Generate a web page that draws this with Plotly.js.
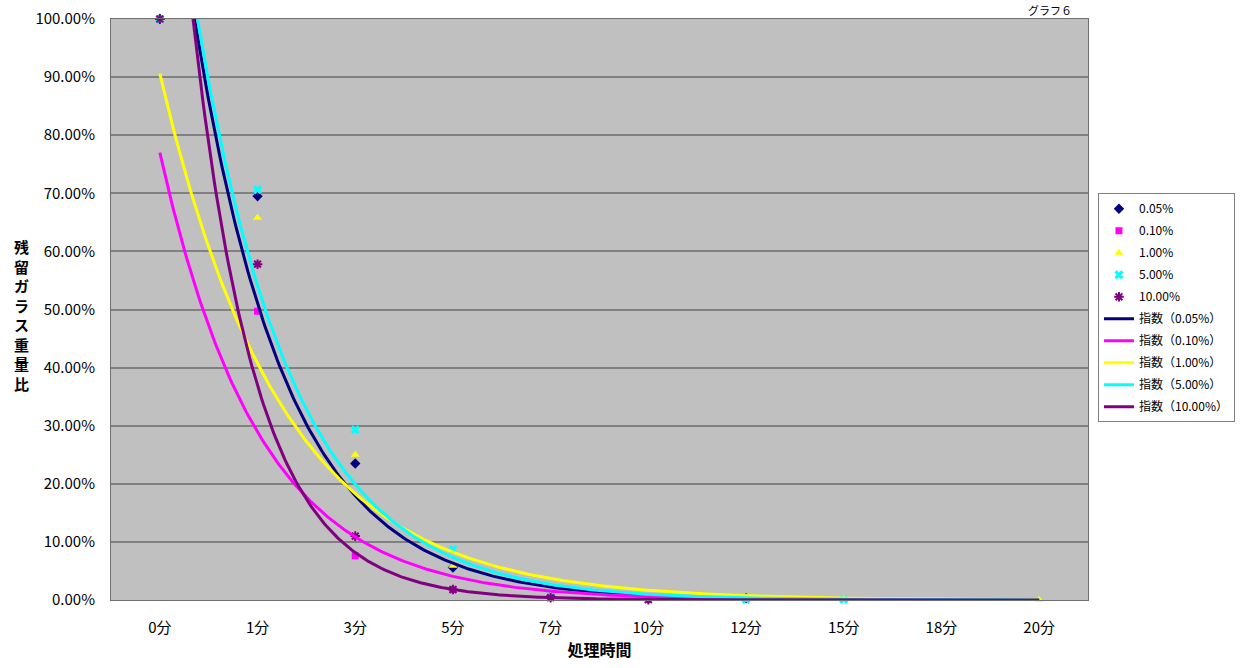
<!DOCTYPE html>
<html>
<head>
<meta charset="utf-8">
<script src="https://cdn.plot.ly/plotly-3.0.1.min.js"></script>
<style>
  html, body { margin: 0; padding: 0; background: #ffffff; }
  #chart { width: 1248px; height: 668px; }
</style>
</head>
<body>
<div id="chart"></div>
<script>
// Processing time categories (x axis)
const categories = ['0分', '1分', '3分', '5分', '7分', '10分', '12分', '15分', '18分', '20分'];

// Residual glass weight ratio (%) per concentration; null = not measured
const seriesNames = ['0.05%', '0.10%', '1.00%', '5.00%', '10.00%'];
const s005  = [100, 69.5, 23.5, 5.6, 0.6, 0.2, 0.3, null, null, null];
const s010  = [100, 49.7, 7.6, 1.8, 0.4, 0.1, null, null, null, null];
const s100  = [100, 65.8, 25.0, 5.9, 0.8, 0.3, 0.2, 0.1, null, 0.05];
const s500  = [100, 70.6, 29.3, 8.7, 0.7, 0.3, 0.1, 0.1, null, null];
const s1000 = [100, 57.8, 11.0, 1.8, 0.4, 0.05, null, null, null, null];

// Exponential trendline coefficients, y = a·e^(b·x) with x = 1..10 (category number)
const trendA = [412.3, 205.2, 201.6, 399.6, 756.0];
const trendB = [-1.045, -0.98, -0.80, -1.0, -1.51];

const yTicks = [0, 10, 20, 30, 40, 50, 60, 70, 80, 90, 100];

const values  = [s005, s010, s100, s500, s1000];
const colors  = ['#000080', '#FF00FF', '#FFFF00', '#00FFFF', '#800080'];
const symbols = ['diamond', 'square', 'triangle-up', 'x', 'asterisk-open'];
const sizes   = [8, 7, 8, 8, 8];

const FONT = '"Noto Sans CJK JP", "Noto Sans", sans-serif';
const pos = categories.map((_, k) => k);

const traces = [];

// measured points
values.forEach((vals, i) => {
  const isLineSymbol = symbols[i] === 'asterisk-open';
  traces.push({
    type: 'scatter',
    mode: 'markers',
    name: seriesNames[i],
    legendgroup: 'm' + i,
    x: pos,
    y: vals,
    cliponaxis: false,
    marker: {
      symbol: symbols[i],
      size: sizes[i],
      color: colors[i],
      line: isLineSymbol ? { color: colors[i], width: 2 } : { width: 0 }
    },
    hoverinfo: 'x+y+name'
  });
});

// exponential trendlines over the full category span
values.forEach((vals, i) => {
  const xs = [], ys = [];
  for (let x = 1; x <= categories.length + 1e-9; x += 0.02) {
    xs.push(x - 1);
    ys.push(trendA[i] * Math.exp(trendB[i] * x));
  }
  traces.push({
    type: 'scatter',
    mode: 'lines',
    name: '指数（' + seriesNames[i] + '）',
    legendgroup: 't' + i,
    x: xs,
    y: ys,
    line: { color: colors[i], width: 3 },
    hoverinfo: 'skip'
  });
});

const layout = {
  width: 1248,
  height: 668,
  margin: { l: 111, r: 160, t: 19, b: 68 },
  paper_bgcolor: '#ffffff',
  plot_bgcolor: '#C0C0C0',
  font: { family: FONT, size: 14, color: '#000000' },
  showlegend: true,
  legend: {
    x: 1.0102, xanchor: 'left',
    y: 0.700, yanchor: 'top',
    bgcolor: '#ffffff',
    bordercolor: '#808080',
    borderwidth: 1,
    traceorder: 'grouped',
    tracegroupgap: 3,
    font: { family: FONT, size: 12, color: '#000000' }
  },
  xaxis: {
    range: [-0.5, categories.length - 0.5],
    tickmode: 'array',
    tickvals: pos,
    ticktext: categories,
    ticks: '',
    ticklabelstandoff: 14,
    tickfont: { family: FONT, size: 15, color: '#000000' },
    showgrid: false,
    zeroline: false,
    showline: true,
    linecolor: '#707070',
    linewidth: 1,
    mirror: true,
    fixedrange: true,
    title: {
      text: '処理時間',
      font: { family: FONT, size: 16, color: '#000000', weight: 'bold' },
      standoff: 8
    }
  },
  xaxis2: {
    overlaying: 'x',
    anchor: 'y',
    side: 'bottom',
    range: [-0.5, categories.length - 0.5],
    tickmode: 'array',
    tickvals: pos.slice(0, -1).map(k => k + 0.5),
    ticks: 'inside',
    ticklen: 5,
    tickwidth: 1,
    tickcolor: '#404040',
    showticklabels: false,
    showgrid: false,
    zeroline: false,
    showline: false
  },
  yaxis: {
    range: [0, 100],
    tickmode: 'array',
    tickvals: yTicks,
    ticktext: yTicks.map(v => v.toFixed(2) + '%'),
    ticks: '',
    ticklabelstandoff: 12,
    tickfont: { family: FONT, size: 15, color: '#000000' },
    showgrid: true,
    gridcolor: '#808080',
    gridwidth: 2,
    zeroline: false,
    showline: true,
    linecolor: '#707070',
    linewidth: 1,
    mirror: true,
    fixedrange: true
  },
  annotations: [
    {
      text: '残<br>留<br>ガ<br>ラ<br>ス<br>重<br>量<br>比',
      xref: 'paper', yref: 'paper',
      x: -0.0911, y: 0.49,
      xanchor: 'center', yanchor: 'middle',
      showarrow: false,
      font: { family: FONT, size: 15, color: '#000000', weight: 'bold' }
    },
    {
      text: 'グラフ６',
      xref: 'paper', yref: 'paper',
      x: 0.961, y: 1.0327,
      xanchor: 'center', yanchor: 'top',
      showarrow: false,
      font: { family: FONT, size: 11, color: '#000000' }
    }
  ]
};

Plotly.newPlot('chart', traces, layout, { displayModeBar: false, staticPlot: true });
</script>
</body>
</html>
